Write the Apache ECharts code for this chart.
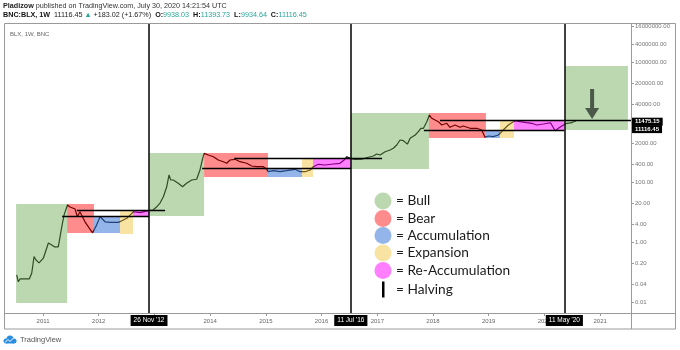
<!DOCTYPE html>
<html><head><meta charset="utf-8">
<script src="https://cdn.jsdelivr.net/npm/echarts@6/dist/echarts.min.js"></script>
<style>html,body{margin:0;padding:0;background:#fff}#c{width:680px;height:350px}</style>
</head><body><div id="c"></div>
<script>
// ---------- data ----------
const xMin = '2010-04-20', xMax = '2021-07-22';
const yMin = 0.00447, yMax = 2.07e7;

const priceDates = ['2010-07-12','2010-07-23','2010-08-03','2010-10-03','2010-10-19','2010-11-03','2010-11-16','2010-12-06',
'2011-01-03','2011-02-05','2011-02-27','2011-03-16','2011-04-11','2011-05-04','2011-05-19','2011-06-10','2011-06-27','2011-07-30',
'2011-08-14','2011-08-31','2011-10-03','2011-10-31','2011-11-22','2011-12-18','2012-01-10','2012-02-12','2012-03-16','2012-05-09',
'2012-06-01','2012-07-03','2012-08-16','2012-09-29','2012-11-21','2012-12-22','2013-01-16','2013-02-06','2013-02-28','2013-03-22',
'2013-04-06','2013-04-17','2013-05-04','2013-06-05','2013-07-04','2013-07-30','2013-09-02','2013-10-04','2013-10-26','2013-11-10',
'2013-11-22','2013-12-19','2014-01-22','2014-02-23','2014-03-28','2014-04-19','2014-05-11','2014-06-13','2014-07-15','2014-08-28',
'2014-09-30','2014-11-02','2014-12-15','2015-01-07','2015-01-17','2015-02-19','2015-04-04','2015-05-18','2015-07-11','2015-08-13',
'2015-09-15','2015-10-18','2015-11-08','2015-12-11','2016-01-24','2016-03-19','2016-05-01','2016-05-28','2016-06-15','2016-07-06',
'2016-08-08','2016-09-21','2016-11-03','2016-12-06','2016-12-28','2017-01-19','2017-02-21','2017-03-25','2017-04-16','2017-05-08',
'2017-05-30','2017-06-21','2017-07-17','2017-08-04','2017-09-06','2017-09-27','2017-10-13','2017-10-30','2017-11-21','2017-12-08',
'2017-12-24','2018-01-14','2018-02-05','2018-02-27','2018-04-01','2018-04-22','2018-05-25','2018-06-27','2018-07-18','2018-09-01',
'2018-10-15','2018-11-16','2018-12-08','2018-12-30','2019-01-31','2019-03-05','2019-03-27','2019-04-18','2019-05-10','2019-06-01',
'2019-06-23','2019-07-25','2019-09-07','2019-10-10','2019-11-12','2019-12-25','2020-02-10','2020-03-12','2020-04-02','2020-05-05',
'2020-05-27','2020-06-29','2020-07-20','2020-07-27'];
const priceValues = [0.083,0.049,0.061,0.061,0.096,0.34,0.26,0.21,
0.30,0.96,0.83,0.72,0.72,3.4,8.3,17.8,15.3,13.1,
7.2,10.6,4.9,3.0,2.1,3.8,7.2,4.9,4.7,4.7,
5.3,6.4,10.6,9.9,11.5,12.1,15.6,20.7,33.6,72,
178,121,121,94,72,94,121,128,261,562,
940,826,724,562,493,437,562,593,493,437,
355,336,336,275,229,247,229,247,275,229,
229,261,336,404,383,414,437,562,724,641,
593,600,692,764,891,826,1063,1211,1380,1778,
2610,2472,1900,2972,3831,4932,6412,6412,10641,17783,
13800,12115,10641,8254,9397,6918,8254,6918,7638,6412,
6412,5623,3213,3548,3365,3831,4932,6412,8254,9840,
11482,10641,9840,9397,8254,8913,9800,5300,6412,8254,
9397,9840,11220,11116.45];

const phaseNames = ['Bull','Bear','Accumulation','Expansion','Re-Accumulation'];
const phaseColors = ['rgba(106,168,79,0.45)','rgba(255,0,0,0.45)','rgba(60,120,216,0.55)','rgba(241,194,50,0.45)','rgba(255,0,255,0.5)'];

const boxPhase = [0,1,2,3,4, 0,1,2,3,4, 0,1,2,3,4, 0];
const boxStart = ['2010-07-08','2011-06-08','2011-12-01','2012-05-20','2012-08-13',
                  '2012-11-28','2013-11-22','2015-01-15','2015-08-26','2015-11-06',
                  '2016-07-11','2017-12-05','2018-12-14','2019-03-16','2019-06-16','2020-05-18'];
const boxEnd   = ['2011-06-08','2011-12-01','2012-05-20','2012-08-13','2012-11-26',
                  '2013-11-22','2015-01-15','2015-08-26','2015-11-06','2016-07-11',
                  '2017-12-05','2018-12-14','2019-03-16','2019-06-16','2020-05-11','2021-07-02'];
const boxLow   = [0.0096,2.07,2.07,1.92,7.64, 7.64,153,153,153,304, 282,3041,3041,3041,5623, 5623];
const boxHigh  = [19.2,19.2,7.64,11.2,11.2, 962,962,304,656,656, 20740,20740,5623,11220,11220, 764000];

const levelStart = ['2011-08-11','2011-05-06','2014-06-07','2013-11-09','2018-02-16','2017-11-02'];
const levelEnd   = ['2013-03-11','2012-11-26','2017-02-01','2016-07-11', xMax,'2020-05-11'];
const levelValue = [11.5, 7.64, 656, 304, 11475.15, 5623];

const halvingDates  = ['2012-11-26','2016-07-11','2020-05-11'];
const halvingLabels = ["26 Nov '12","11 Jul '16","11 May '20"];

const yTickValues = [0.01,0.04,0.2,1,4,20,100,400,2000,40000,200000,1000000,4000000,16000000];
const xTickDates = ['2011-01-01','2012-01-01','2013-01-01','2014-01-01','2015-01-01','2016-01-01',
                    '2017-01-01','2018-01-01','2019-01-01','2020-01-01','2021-01-01'];

const lastDate = '2020-07-27', lastPrice = 11116.45;
const arrowDate = '2020-11-09', arrowPrice = 41400;

// ---------- chart ----------
const T = d => Date.parse(d);   // ISO date -> UTC timestamp
const chart = echarts.init(document.getElementById('c'), null, {renderer: 'canvas'});
const axisFont = 'Liberation Sans, Arial, sans-serif';

const markAreaData = boxStart.map((s, i) => [
  {coord: [T(s), boxHigh[i]], itemStyle: {color: phaseColors[boxPhase[i]]}},
  {coord: [T(boxEnd[i]), boxLow[i]]}
]);

const tagLabel = (txt, extra) => Object.assign({
  show: true, formatter: txt, color: '#fff', backgroundColor: '#000',
  fontFamily: axisFont, fontSize: 6, fontWeight: 'bold', padding: [1, 3], distance: 1
}, extra || {});

const markLineData = [];
levelStart.forEach((s, i) => {
  const item = {coord: [T(s), levelValue[i]], lineStyle: {color: '#000', width: 1.3, type: 'solid'}};
  if (levelValue[i] === 11475.15) item.label = tagLabel('11475.15', {position: 'end', offset: [0, 1]});
  markLineData.push([item, {coord: [T(levelEnd[i]), levelValue[i]]}]);
});
markLineData.push([
  {coord: [T(lastDate), lastPrice], lineStyle: {color: 'rgba(0,0,0,0)', width: 1},
   label: tagLabel('11116.45', {position: 'end', offset: [0, 8]})},
  {coord: [T(xMax), lastPrice]}
]);
halvingDates.forEach((d, i) => {
  markLineData.push({
    xAxis: T(d), lineStyle: {color: '#000', width: 1.5, type: 'solid'},
    label: {show: true, position: 'start', formatter: halvingLabels[i], color: '#fff', backgroundColor: '#000',
            fontFamily: axisFont, fontSize: 6.5, padding: [2, 3], distance: 2}
  });
});

// legend graphic
const legendY = [201, 218.5, 235.5, 253, 270.5];
const legendFont = '13.7px Lato, sans-serif';
const graphics = [];
phaseNames.forEach((n, i) => {
  graphics.push({type: 'circle', shape: {cx: 383, cy: legendY[i], r: 8.5}, style: {fill: phaseColors[i]}, z: 10});
  graphics.push({type: 'text', x: 396, y: legendY[i], style: {text: '= ' + n, fill: '#1a1a1a', font: legendFont, verticalAlign: 'middle'}, z: 10});
});
graphics.push({type: 'rect', shape: {x: 382, y: 281.5, width: 2.5, height: 16}, style: {fill: '#000'}, z: 10});
graphics.push({type: 'text', x: 396, y: 290, style: {text: '= Halving', fill: '#1a1a1a', font: legendFont, verticalAlign: 'middle'}, z: 10});

// frame
graphics.push({type: 'rect', shape: {x: 632, y: 14, width: 46, height: 9.5}, style: {fill: '#fff'}, z: 20});
graphics.push({type: 'rect', shape: {x: 4.5, y: 23.5, width: 671, height: 305.5}, style: {fill: null, stroke: '#9a9a9a', lineWidth: 1}, z: 21});
graphics.push({type: 'line', shape: {x1: 631.5, y1: 23.5, x2: 631.5, y2: 329}, style: {stroke: '#9a9a9a', lineWidth: 1}, z: 21});
graphics.push({type: 'line', shape: {x1: 4.5, y1: 313.5, x2: 676, y2: 313.5}, style: {stroke: '#9a9a9a', lineWidth: 1}, z: 21});

// header texts
graphics.push({type: 'text', x: 3, y: 6.5, style: {
  text: '{b|Pladizow} published on TradingView.com, July 30, 2020 14:21:54 UTC',
  fill: '#333', font: '7.2px Liberation Sans, Arial, sans-serif', verticalAlign: 'middle',
  rich: {b: {fontWeight: 'bold', fontSize: 7.2, fill: '#222', fontFamily: axisFont}}
}, z: 10});
graphics.push({type: 'text', x: 3, y: 15.5, style: {
  text: '{b|BNC:BLX, 1W}  11116.45 {g|▲} +183.02 (+1.67%)  {b|O:}{g|9938.03}  {b|H:}{g|11393.73}  {b|L:}{g|9934.64}  {b|C:}{g|11116.45}',
  fill: '#222', font: '7.2px Liberation Sans, Arial, sans-serif', verticalAlign: 'middle',
  rich: {b: {fontWeight: 'bold', fontSize: 7.2, fill: '#111', fontFamily: axisFont},
         g: {fontSize: 7.2, fill: '#26a69a', fontFamily: axisFont}}
}, z: 10});
graphics.push({type: 'text', x: 10, y: 34, style: {text: 'BLX, 1W, BNC', fill: '#666', font: '6px Liberation Sans, Arial, sans-serif', verticalAlign: 'middle'}, z: 10});

// footer logo + text
graphics.push({type: 'circle', shape: {cx: 6, cy: 341, r: 2.5}, style: {fill: '#2a8de0'}, z: 10});
graphics.push({type: 'circle', shape: {cx: 10, cy: 339, r: 3.5}, style: {fill: '#2a8de0'}, z: 10});
graphics.push({type: 'circle', shape: {cx: 14, cy: 341, r: 2.5}, style: {fill: '#2a8de0'}, z: 10});
graphics.push({type: 'rect', shape: {x: 6, y: 340, width: 8, height: 3.5}, style: {fill: '#2a8de0'}, z: 10});
graphics.push({type: 'polyline', shape: {points: [[5,342.5],[8,339.5],[10,341.5],[13.5,338]]}, style: {stroke: '#fff', lineWidth: 1, fill: null}, z: 11});
graphics.push({type: 'text', x: 20, y: 340, style: {text: 'TradingView', fill: '#555', font: '7.5px Liberation Sans, Arial, sans-serif', verticalAlign: 'middle'}, z: 10});

chart.setOption({
  animation: false,
  backgroundColor: '#fff',
  grid: {left: 4, right: 49, top: 23, bottom: 37, containLabel: false, outerBoundsMode: 'none'},
  xAxis: {
    type: 'value', min: T(xMin), max: T(xMax), scale: true,
    axisLine: {show: false},
    axisTick: {show: true, length: 3, lineStyle: {color: '#9a9a9a'}, customValues: xTickDates.map(T)},
    axisLabel: {customValues: xTickDates.map(T), color: '#666', fontSize: 6, fontFamily: axisFont, margin: 5,
                formatter: v => String(new Date(v).getUTCFullYear())},
    splitLine: {show: false}
  },
  yAxis: {
    type: 'log', logBase: 10, min: yMin, max: yMax, position: 'right',
    axisLine: {show: false},
    axisTick: {show: true, length: 3, lineStyle: {color: '#9a9a9a'}, customValues: yTickValues},
    axisLabel: {customValues: yTickValues, color: '#777', fontSize: 6, fontFamily: axisFont, margin: 4,
                formatter: v => Number(v).toFixed(2)},
    splitLine: {show: false}
  },
  series: [{
    name: 'BLX', type: 'line', showSymbol: false, symbol: 'none', z: 2,
    data: priceDates.map((d, i) => [T(d), priceValues[i]]),
    lineStyle: {color: '#000', width: 1.2},
    markArea: {silent: true, z: 3, data: markAreaData},
    markLine: {silent: true, symbol: ['none', 'none'], z: 5, label: {show: false}, data: markLineData},
    markPoint: {silent: true, z: 6, data: [{coord: [T(arrowDate), arrowPrice],
      symbol: 'path://M5,0L9,0L9,19L14,19L7,30L0,19L5,19Z', symbolSize: [14, 30],
      itemStyle: {color: '#4b5749'}, label: {show: false}}]}
  }],
  graphic: {elements: graphics}
});
</script>
</body></html>
